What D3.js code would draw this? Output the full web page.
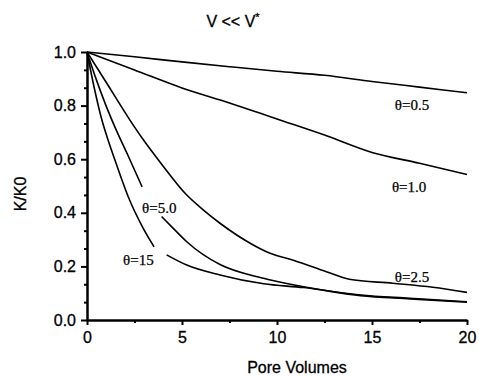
<!DOCTYPE html>
<html>
<head>
<meta charset="utf-8">
<script src="https://cdn.jsdelivr.net/npm/d3@7"></script>
<style>
  body { margin: 0; background: #fff; }
  text { font-family: "Liberation Sans", Arial, sans-serif; fill: #000; }
  .lbl { font-family: "Liberation Serif", "Times New Roman", serif; font-size: 15px; }
</style>
</head>
<body>
<div id="chart"></div>
<script>
// curves (pore volumes -> K/K0)
// theta = 5 and theta = 15 are broken where their labels sit
const theta05X = [0, 2.5, 5, 7.5, 10, 12.5, 15, 17.5, 20];
const theta05K = [1.0, 0.982, 0.963, 0.945, 0.928, 0.913, 0.89, 0.869, 0.848];

const theta10X = [0, 2.5, 5, 7.5, 10, 12.5, 15, 17.5, 20];
const theta10K = [1.0, 0.933, 0.866, 0.81, 0.75, 0.69, 0.625, 0.585, 0.543];

const theta25X = [0, 1, 2.26, 2.9, 4.0, 5.2, 6.1, 7.0, 8.75, 9.6, 10.9, 12.6, 13.8, 16.1, 18.2, 20];
const theta25K = [1.0, 0.888, 0.746, 0.679, 0.575, 0.47, 0.412, 0.361, 0.28, 0.25, 0.222, 0.18, 0.152, 0.137, 0.122, 0.103];

const theta5aX = [0, 0.5, 1.0, 1.5, 2.17, 2.9];
const theta5aK = [1.0, 0.895, 0.8, 0.715, 0.612, 0.497];
const theta5bX = [3.93, 4.54, 5.25, 7.0, 8.9, 9.6, 11.4, 14.4, 17, 20];
const theta5bK = [0.386, 0.342, 0.292, 0.207, 0.162, 0.15, 0.124, 0.093, 0.081, 0.068];

const theta15aX = [0, 0.4, 0.77, 1.07, 1.47, 2.17, 2.96, 3.53];
const theta15aK = [1.0, 0.86, 0.75, 0.68, 0.597, 0.46, 0.342, 0.273];
const theta15bX = [4.19, 5.25, 7.0, 9.3, 11.4, 14.4, 17, 20];
const theta15bK = [0.243, 0.205, 0.168, 0.135, 0.121, 0.091, 0.079, 0.066];

const xTicks = [0, 5, 10, 15, 20];
const xMinor = [2.5, 7.5, 12.5, 17.5];
const yTicks = [0, 0.2, 0.4, 0.6, 0.8, 1.0];

const labelText = ["\u03b8=0.5", "\u03b8=1.0", "\u03b8=2.5", "\u03b8=5.0", "\u03b8=15"];
const labelX = [16.2, 16.05, 16.2, 2.9, 1.9];
const labelK = [0.784, 0.478, 0.142, 0.399, 0.205];

const W = 479, H = 377;
const margin = {top: 52, right: 12, bottom: 57, left: 87};

const svg = d3.select("#chart")
  .append("svg")
    .attr("width", W)
    .attr("height", H);

const x = d3.scaleLinear()
    .domain([0, 20])
    .range([margin.left, W - margin.right]);

const y = d3.scaleLinear()
    .domain([0, 1])
    .range([H - margin.bottom, margin.top]);

// minor ticks on y: three steps per 0.2
const yMinor = d3.range(1, 15).map(i => i * 0.2 / 3).filter(v => Math.abs(v * 5 - Math.round(v * 5)) > 1e-6);

const series = [
  [theta05X, theta05K], [theta10X, theta10K], [theta25X, theta25K],
  [theta5aX, theta5aK], [theta5bX, theta5bK],
  [theta15aX, theta15aK], [theta15bX, theta15bK]
].map(([xs, ks]) => xs.map((v, i) => [v, ks[i]]));

const line = d3.line()
    .x(d => x(d[0]))
    .y(d => y(d[1]))
    .curve(d3.curveMonotoneX);

svg.append("g")
  .selectAll("path")
  .data(series)
  .join("path")
    .attr("d", line)
    .attr("fill", "none")
    .attr("stroke", "#000")
    .attr("stroke-width", 1.6);

// axes
svg.append("g")
    .attr("transform", `translate(${margin.left},0)`)
    .call(d3.axisLeft(y).tickValues(yTicks).tickSize(6).tickSizeOuter(0).tickPadding(5).tickFormat(d3.format(".1f")));

svg.append("g")
    .attr("transform", `translate(${margin.left},0)`)
    .call(d3.axisLeft(y).tickValues(yMinor).tickSize(3).tickFormat(""))
    .call(g => g.select(".domain").remove());

svg.append("g")
    .attr("transform", `translate(0,${H - margin.bottom})`)
    .call(d3.axisBottom(x).tickValues(xTicks).tickSize(5).tickSizeOuter(0).tickPadding(7));

svg.append("g")
    .attr("transform", `translate(0,${H - margin.bottom})`)
    .call(d3.axisBottom(x).tickValues(xMinor).tickSize(3).tickFormat(""))
    .call(g => g.select(".domain").remove());

svg.selectAll(".domain").attr("stroke", "#000").attr("stroke-width", 2.5);
svg.selectAll(".tick line").attr("stroke", "#000").attr("stroke-width", 2);
svg.selectAll(".tick text")
    .attr("font-family", "Liberation Sans, Arial, sans-serif")
    .attr("font-size", 16)
    .attr("stroke", "#000")
    .attr("stroke-width", 0.3);

// curve labels
svg.append("g")
  .selectAll("text")
  .data(labelText)
  .join("text")
    .attr("class", "lbl")
    .attr("x", (d, i) => x(labelX[i]))
    .attr("y", (d, i) => y(labelK[i]))
    .attr("stroke", "#000")
    .attr("stroke-width", 0.25)
    .text(d => d);

// title
const title = svg.append("text")
    .attr("x", 233)
    .attr("y", 27)
    .attr("text-anchor", "middle")
    .style("font-size", "16px")
    .attr("stroke", "#000")
    .attr("stroke-width", 0.3);
title.append("tspan").text("V << V");
title.append("tspan").attr("dy", -6).style("font-size", "11px").text("*");

// axis titles
svg.append("text")
    .attr("transform", "translate(26,194) rotate(-90)")
    .attr("text-anchor", "middle")
    .style("font-size", "16px")
    .attr("stroke", "#000")
    .attr("stroke-width", 0.3)
    .text("K/K0");

svg.append("text")
    .attr("x", 297)
    .attr("y", 373)
    .attr("text-anchor", "middle")
    .style("font-size", "16px")
    .attr("stroke", "#000")
    .attr("stroke-width", 0.3)
    .text("Pore Volumes");
</script>
</body>
</html>
